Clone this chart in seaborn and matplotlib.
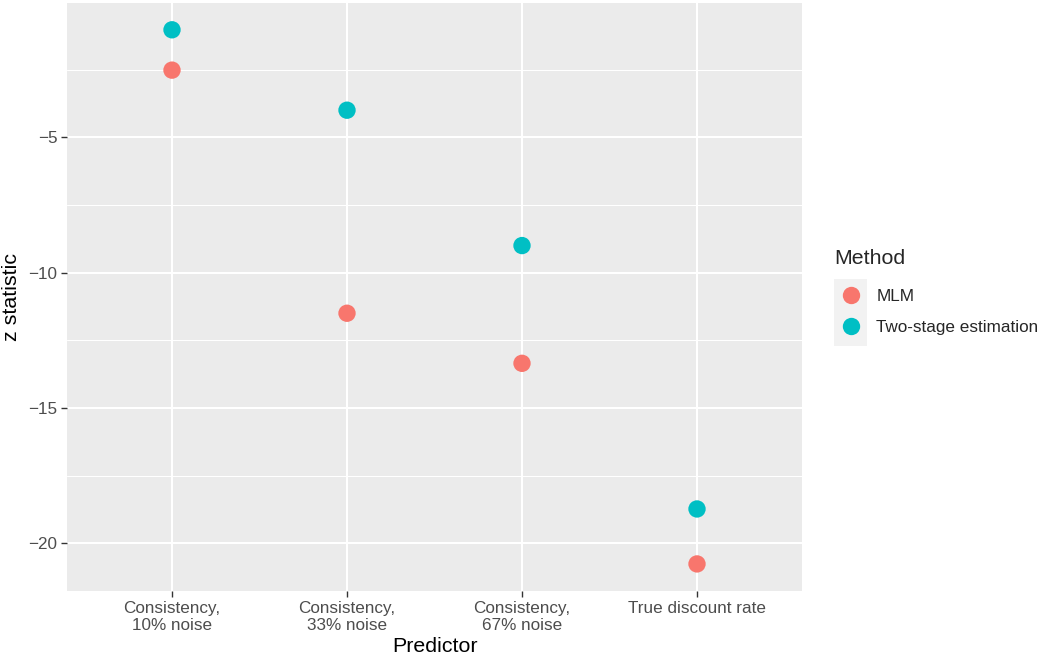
#!/usr/bin/env python3

import pandas as pd
import matplotlib
matplotlib.use("Agg")
from matplotlib import pyplot as plt
from matplotlib.lines import Line2D
from matplotlib.patches import Rectangle
import seaborn as sns


predictors = ["Consistency,\n10% noise", "Consistency,\n33% noise",
              "Consistency,\n67% noise", "True discount rate"]
methods = ["MLM", "Two-stage estimation"]
mlm_z = [-2.52, -11.5, -13.35, -20.76]
two_stage_z = [-1.03, -4.0, -9.0, -18.73]
colors = ["#F8766D", "#00BFC4"]

df = pd.DataFrame({
    "Predictor": predictors * 2,
    "z statistic": mlm_z + two_stage_z,
    "Method": [methods[0]] * 4 + [methods[1]] * 4,
})

sns.set_theme(style="darkgrid", rc={
    "axes.facecolor": "#EBEBEB",
    "grid.color": "white",
    "axes.edgecolor": "none",
})
plt.rcParams["font.family"] = ["Liberation Sans", "DejaVu Sans"]

W, H = 1049, 659
fig = plt.figure(figsize=(W / 100, H / 100), dpi=100)
ax = fig.add_axes([67 / W, (H - 591) / H, (802 - 67) / W, (591 - 3) / H])

sns.stripplot(data=df, x="Predictor", y="z statistic", hue="Method",
              order=predictors, hue_order=methods, palette=colors,
              jitter=False, dodge=False, size=12.5, linewidth=0,
              legend=False, ax=ax, zorder=3)

ax.set_xlim(-0.6, 3.6)
ax.set_ylim(-21.76, -0.04)
ax.set_yticks([-20, -15, -10, -5])
ax.set_yticks([-17.5, -12.5, -7.5, -2.5], minor=True)
ax.grid(which="major", color="white", linewidth=1.5)
ax.grid(which="minor", axis="y", color="white", linewidth=0.75)
ax.set_axisbelow(True)

ax.tick_params(which="major", length=4, width=1, color="#333333",
               labelsize=12.3, labelcolor="#4D4D4D", pad=3, bottom=True, left=True)
ax.tick_params(which="minor", length=0)
for lab in ax.get_xticklabels():
    lab.set_multialignment("center")

ax.set_xlabel("Predictor", fontsize=15.4, color="black", labelpad=3)
ax.set_ylabel("z statistic", fontsize=15.4, color="black", labelpad=5)

# legend with ggplot-like key background
fig.add_artist(Rectangle((834 / W, 1 - 346 / H), 33 / W, 67 / H,
                         transform=fig.transFigure, facecolor="#F2F2F2",
                         edgecolor="none", zorder=0))
fig.text(834 / W, 1 - 258 / H, "Method", fontsize=15.4, va="center", ha="left")
handles = [Line2D([], [], marker="o", linestyle="", markersize=12.5,
                  markerfacecolor=c, markeredgewidth=0) for c in colors]
leg = fig.legend(handles, methods, loc="upper left",
                 bbox_to_anchor=(838 / W, 1 - 289 / H), frameon=False,
                 fontsize=12.3, handletextpad=0.75, labelspacing=0.95,
                 handlelength=1.5, borderpad=0.0, borderaxespad=0.0)
leg.set_zorder(5)

fig.savefig("out.png", dpi=100)
